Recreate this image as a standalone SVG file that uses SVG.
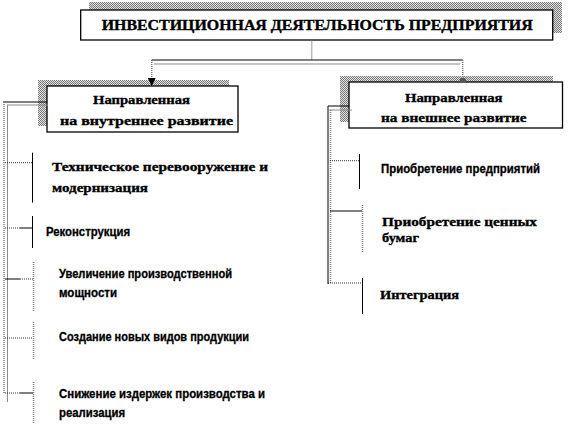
<svg xmlns="http://www.w3.org/2000/svg" width="575" height="433" viewBox="0 0 575 433">
<defs>
<pattern id="dither" width="2" height="2" patternUnits="userSpaceOnUse">
<rect width="2" height="2" fill="#e0e0e0"/>
<rect width="1" height="1" fill="#7a7a7a"/>
<rect x="1" y="1" width="1" height="1" fill="#7a7a7a"/>
</pattern>
<marker id="arr" viewBox="0 0 8 8" refX="8" refY="4" markerWidth="8" markerHeight="8" markerUnits="userSpaceOnUse" orient="auto">
<path d="M0,0 L8,4 L0,8 Z" fill="#000"/>
</marker>
</defs>
<style>
.shadow{fill:url(#dither);}
.box{fill:#fff;stroke:#000;stroke-width:1.3;}
.solid{stroke:#000;stroke-width:1;fill:none;}
.gray{stroke:#8a8a8a;stroke-width:1;fill:none;}
.dot{stroke:#333;stroke-width:1;stroke-dasharray:1 1;fill:none;}
.gdot{stroke:#777;stroke-width:1.5;stroke-dasharray:1 1;fill:none;}
.serif{font-family:"Liberation Serif","DejaVu Serif","Times New Roman",serif;font-weight:bold;fill:#000;stroke:#000;stroke-width:0.35;}
.sans{font-family:"Liberation Sans",Arial,sans-serif;font-weight:bold;fill:#000;stroke:#000;stroke-width:0.3;}
</style>
<rect width="575" height="433" fill="#fff"/>

<g id="node-top">
<rect class="shadow" x="89" y="2" width="473" height="31"/>
<rect class="box" x="80.7" y="10" width="472" height="30"/>
<text class="serif" x="101.7" y="29.5" font-size="14" textLength="431" lengthAdjust="spacingAndGlyphs">ИНВЕСТИЦИОННАЯ  ДЕЯТЕЛЬНОСТЬ  ПРЕДПРИЯТИЯ</text>
</g>

<g id="node-internal">
<rect class="shadow" x="38" y="80" width="191" height="46"/>
<rect class="box" x="47" y="86" width="191" height="46"/>
<text class="serif" x="93" y="103.5" font-size="13.5" textLength="97" lengthAdjust="spacingAndGlyphs">Направленная</text>
<text class="serif" x="60" y="124.5" font-size="13.5" textLength="173" lengthAdjust="spacingAndGlyphs">на внутреннее развитие</text>
</g>

<g id="node-external">
<rect class="shadow" x="340" y="76" width="213" height="46"/>
<rect class="box" x="349" y="82" width="213.5" height="46"/>
<text class="serif" x="405" y="101.5" font-size="13.5" textLength="97.5" lengthAdjust="spacingAndGlyphs">Направленная</text>
<text class="serif" x="381" y="121.5" font-size="13.5" textLength="145.5" lengthAdjust="spacingAndGlyphs">на внешнее развитие</text>
</g>

<g id="item-tech">
<text class="serif" x="52" y="171" font-size="13.5" textLength="216" lengthAdjust="spacingAndGlyphs">Техническое  перевооружение и</text>
<text class="serif" x="52" y="191.5" font-size="13.5" textLength="96" lengthAdjust="spacingAndGlyphs">модернизация</text>
</g>
<g id="item-recon">
<text class="sans" x="46" y="235.5" font-size="12" textLength="84" lengthAdjust="spacingAndGlyphs">Реконструкция</text>
</g>
<g id="item-capacity">
<text class="sans" x="59" y="277.5" font-size="12" textLength="173" lengthAdjust="spacingAndGlyphs">Увеличение производственной</text>
<text class="sans" x="59" y="297" font-size="12" textLength="58" lengthAdjust="spacingAndGlyphs">мощности</text>
</g>
<g id="item-products">
<text class="sans" x="59" y="341" font-size="12" textLength="190" lengthAdjust="spacingAndGlyphs">Создание новых видов продукции</text>
</g>
<g id="item-costs">
<text class="sans" x="59" y="397.5" font-size="12" textLength="206" lengthAdjust="spacingAndGlyphs">Снижение издержек производства и</text>
<text class="sans" x="59" y="416.5" font-size="12" textLength="66" lengthAdjust="spacingAndGlyphs">реализация</text>
</g>
<g id="item-enterprises">
<text class="sans" x="381" y="173" font-size="12" textLength="159" lengthAdjust="spacingAndGlyphs">Приобретение предприятий</text>
</g>
<g id="item-securities">
<text class="serif" x="382" y="225.5" font-size="13.5" textLength="155" lengthAdjust="spacingAndGlyphs">Приобретение ценных</text>
<text class="serif" x="382" y="242" font-size="13.5" textLength="37" lengthAdjust="spacingAndGlyphs">бумаг</text>
</g>
<g id="item-integration">
<text class="serif" x="380" y="298.5" font-size="13.5" textLength="79" lengthAdjust="spacingAndGlyphs">Интеграция</text>
</g>

<g id="connectors">
<line class="gdot" x1="311.7" y1="40.5" x2="311.7" y2="60"/>
<line class="solid" x1="151.7" y1="60" x2="462.7" y2="60"/>
<line class="gray" x1="154" y1="64" x2="460" y2="64"/>
<line class="gdot" x1="151.7" y1="60" x2="151.7" y2="86" marker-end="url(#arr)"/>
<line class="gdot" x1="462.7" y1="60" x2="462.7" y2="79"/>
<path d="M459,82 L460.5,78 L465,78 L466.5,82 Z" fill="#555"/>
<line class="solid" x1="3" y1="102" x2="47" y2="102"/>
<line class="gray" x1="7" y1="105" x2="48" y2="105"/>
<line class="gdot" x1="4" y1="102" x2="4" y2="394"/>
<line class="gray" x1="7.5" y1="105" x2="7.5" y2="402"/>
<line class="dot" x1="5" y1="162.7" x2="32" y2="162.7"/>
<line class="solid" x1="32.5" y1="152.7" x2="32.5" y2="202.7"/>
<line class="dot" x1="5" y1="228" x2="20" y2="228"/>
<line class="solid" x1="20" y1="228" x2="32" y2="228"/>
<line class="solid" x1="32.5" y1="216" x2="32.5" y2="248"/>
<line class="solid" x1="5" y1="279" x2="20" y2="279"/>
<line class="dot" x1="20" y1="279" x2="33" y2="279"/>
<line class="gdot" x1="33.5" y1="262" x2="33.5" y2="312"/>
<line class="dot" x1="5" y1="338" x2="33" y2="338"/>
<line class="gdot" x1="33.5" y1="322" x2="33.5" y2="360"/>
<line class="dot" x1="5" y1="393" x2="20" y2="393"/>
<line class="solid" x1="20" y1="393" x2="33" y2="393"/>
<line class="gdot" x1="33.5" y1="382" x2="33.5" y2="424"/>
<line class="solid" x1="328" y1="106" x2="349" y2="106"/>
<line class="gray" x1="329" y1="110" x2="352" y2="110"/>
<line class="solid" x1="328" y1="106" x2="328" y2="284"/>
<line class="gdot" x1="330.5" y1="110" x2="330.5" y2="283"/>
<line class="dot" x1="330" y1="160.7" x2="359" y2="160.7"/>
<line class="solid" x1="359.5" y1="154" x2="359.5" y2="189"/>
<line class="solid" x1="330" y1="211" x2="362" y2="211"/>
<line class="gdot" x1="362.5" y1="205" x2="362.5" y2="253"/>
<line class="dot" x1="328" y1="283" x2="362" y2="283"/>
<line class="solid" x1="362.5" y1="278" x2="362.5" y2="314"/>
</g>
</svg>
